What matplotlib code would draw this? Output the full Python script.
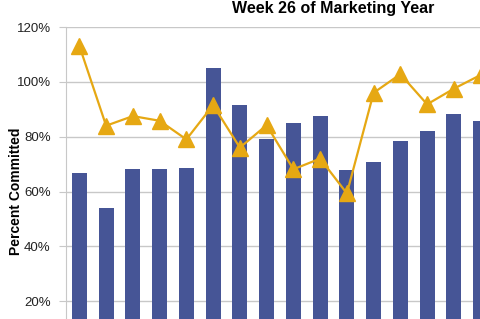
import numpy as np
import matplotlib.pyplot as plt
from matplotlib.ticker import PercentFormatter

# visible categories (the source chart is cropped on the right and bottom)
n_total = 20
bar_values = [66.8, 54.0, 68.3, 68.3, 68.5, 105.0, 91.4, 79.1, 85.0, 87.6,
              67.9, 70.7, 78.6, 82.0, 88.2, 85.8]
line_values = [113.1, 84.0, 87.5, 85.8, 79.0, 91.5, 76.0, 84.2, 68.1, 72.0,
               59.3, 96.0, 102.8, 91.8, 97.5, 102.5]
y_ticks = [20, 40, 60, 80, 100, 120]

x = np.arange(len(bar_values))

fig = plt.figure(figsize=(4.8, 3.19), dpi=100)
# axes deliberately extend past the right and bottom edges, like the crop
ax = fig.add_axes([66 / 480, -37 / 319, 535 / 480, 329 / 319])

ax.bar(x, bar_values, width=0.57, color='#465596', zorder=2)
ax.plot(x, line_values, color='#E6A813', linewidth=1.6, marker='^',
        markersize=12, markeredgecolor='#E6A813', zorder=3, clip_on=False)

ax.set_xlim(-0.5, n_total - 0.5)
ax.set_ylim(0, 120)
ax.set_yticks(y_ticks)
ax.yaxis.set_major_formatter(PercentFormatter(decimals=0))
ax.set_xticks([])
ax.grid(axis='y', color='#C8C8C8', linewidth=1, zorder=0)
ax.tick_params(axis='y', length=5, color='#C8C8C8', pad=6, labelsize=9.5,
               labelcolor='#222222')
for lab in ax.get_yticklabels():
    lab.set_family('Liberation Sans')

for side in ['top', 'right', 'bottom']:
    ax.spines[side].set_visible(False)
ax.spines['left'].set_color('#C8C8C8')

ax.set_ylabel('Percent Committed', fontsize=10, fontweight='bold',
              family='Liberation Sans')
ax.yaxis.set_label_coords(-0.080, 0.50)

fig.text(333.5 / 480, 1 - 9 / 319, 'Week 26 of Marketing Year', ha='center',
         va='center', fontsize=11.5, fontweight='bold', family='Liberation Sans')

fig.savefig('out.png', dpi=100)
